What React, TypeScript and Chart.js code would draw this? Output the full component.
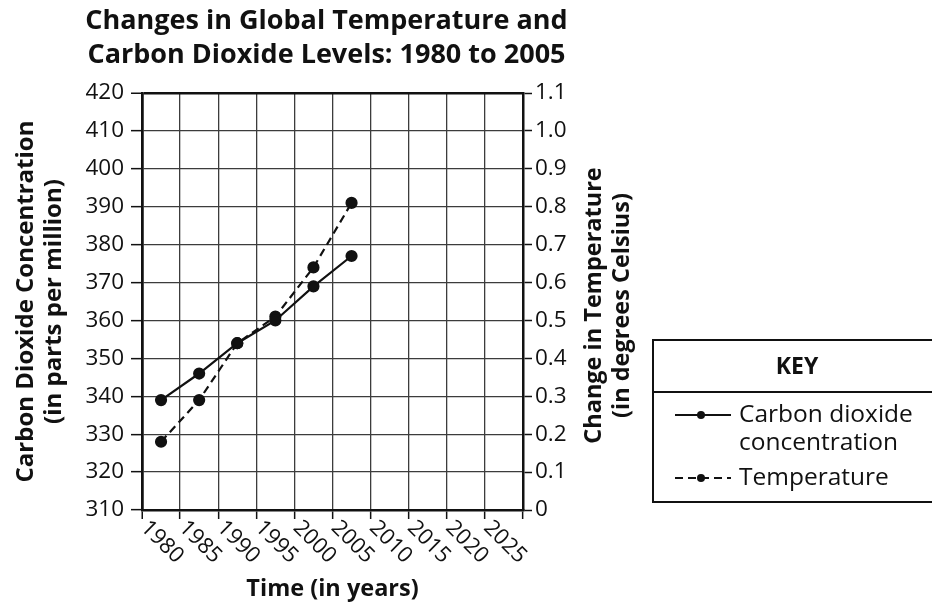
import { useEffect, useRef } from "react";
import { Chart, registerables } from "chart.js";
Chart.register(...registerables);

const FONT = "'Open Sans', 'Noto Sans', sans-serif";

const years = ["1980", "1985", "1990", "1995", "2000", "2005", "2010", "2015", "2020", "2025"];
const co2Values = [339, 346, 354, 360, 369, 377];
const tempValues = [0.18, 0.29, 0.44, 0.51, 0.64, 0.81];

const titleLines = ["Changes in Global Temperature and", "Carbon Dioxide Levels: 1980 to 2005"];
const leftTitle = ["Carbon Dioxide Concentration", "(in parts per million)"];
const rightTitle = ["Change in Temperature", "(in degrees Celsius)"];
const xTitle = "Time (in years)";
const keyTitle = "KEY";
const keyLabels = [["Carbon dioxide", "concentration"], ["Temperature"]];

const INK = "#111111";
const GRID = "#3c3c3c";

const xLabelsPlugin = {
  id: "xLabels",
  afterDraw(chart: any) {
    const { ctx, chartArea } = chart;
    const xs = chart.scales.x;
    ctx.save();
    ctx.fillStyle = INK;
    ctx.font = `22px ${FONT}`;
    ctx.textAlign = "center";
    ctx.textBaseline = "middle";
    (chart.data.labels as string[]).forEach((lab, i) => {
      const x = xs.getPixelForTick(i);
      ctx.save();
      ctx.translate(x + 1, chartArea.bottom + 32);
      ctx.rotate(Math.PI / 4);
      ctx.fillText(lab, 0, 0);
      ctx.restore();
    });
    ctx.restore();
  },
};

const rightTitlePlugin = {
  id: "rightTitle",
  afterDraw(chart: any) {
    const { ctx, chartArea } = chart;
    const cy = (chartArea.top + chartArea.bottom) / 2 + 4;
    ctx.save();
    ctx.fillStyle = INK;
    ctx.font = `bold 23.5px ${FONT}`;
    ctx.textAlign = "center";
    ctx.textBaseline = "middle";
    rightTitle.forEach((line, i) => {
      ctx.save();
      ctx.translate(chartArea.right + 71 + i * 28, cy);
      ctx.rotate(-Math.PI / 2);
      ctx.fillText(line, 0, 0);
      ctx.restore();
    });
    ctx.restore();
  },
};

const keyPlugin = {
  id: "key",
  afterDraw(chart: any) {
    const { ctx, width } = chart;
    const left = 653, top = 340, bottom = 502, divider = 392;
    const right = width - 5;
    ctx.save();
    ctx.strokeStyle = INK;
    ctx.lineWidth = 2;
    ctx.strokeRect(left, top, right - left, bottom - top);
    ctx.beginPath();
    ctx.moveTo(left, divider);
    ctx.lineTo(right, divider);
    ctx.stroke();
    ctx.fillStyle = INK;
    ctx.font = `bold 23px ${FONT}`;
    ctx.textAlign = "center";
    ctx.textBaseline = "middle";
    ctx.fillText(keyTitle, 797, 367);
    ctx.font = `24.5px ${FONT}`;
    ctx.textAlign = "left";
    const rows = [415, 478];
    chart.data.datasets.forEach((ds: any, i: number) => {
      const y = rows[i];
      ctx.save();
      ctx.strokeStyle = ds.borderColor;
      ctx.lineWidth = 2;
      ctx.setLineDash(ds.borderDash || []);
      ctx.beginPath();
      ctx.moveTo(675, y);
      ctx.lineTo(731, y);
      ctx.stroke();
      ctx.restore();
      ctx.beginPath();
      ctx.arc(701, y, 4, 0, Math.PI * 2);
      ctx.fill();
      keyLabels[i].forEach((t, j) => {
        ctx.fillText(t, 739, y + j * 28);
      });
    });
    ctx.restore();
  },
};

export default function App() {
  const ref = useRef<HTMLCanvasElement>(null);
  useEffect(() => {
    document.body.style.margin = "0";
    const chart = new Chart(ref.current!, {
      type: "line",
      data: {
        labels: years,
        datasets: [
          {
            label: "Carbon dioxide concentration",
            data: co2Values,
            yAxisID: "y",
            borderColor: INK,
            backgroundColor: INK,
            pointBackgroundColor: INK,
            pointBorderColor: INK,
            borderWidth: 2.2,
            pointRadius: 5,
            tension: 0,
          },
          {
            label: "Temperature",
            data: tempValues,
            yAxisID: "y2",
            borderColor: INK,
            backgroundColor: INK,
            pointBackgroundColor: INK,
            pointBorderColor: INK,
            borderWidth: 2.2,
            borderDash: [8, 5],
            pointRadius: 5,
            tension: 0,
          },
        ],
      },
      options: {
        animation: false,
        responsive: false,
        layout: { padding: { left: 10, right: 317, top: 0, bottom: 0 } },
        plugins: {
          legend: { display: false },
          tooltip: { enabled: false },
          title: {
            display: true,
            text: titleLines,
            color: INK,
            font: { family: FONT, size: 27, weight: "bold", lineHeight: 34 / 27 },
            padding: { top: 4, bottom: 21 },
          },
        },
        scales: {
          x: {
            type: "category",
            offset: true,
            grid: {
              offset: true,
              color: (c: any) => (c.index === 0 || c.index === years.length ? INK : GRID),
              lineWidth: (c: any) => (c.index === 0 || c.index === years.length ? 2.5 : 1.3),
              tickLength: 9,
              tickColor: INK,
              tickWidth: 1.5,
            },
            border: { display: true, color: INK, width: 2.5 },
            ticks: { display: false },
            title: {
              display: true,
              text: xTitle,
              color: INK,
              font: { family: FONT, size: 23.5, weight: "bold", lineHeight: 28 / 23.5 },
              padding: { top: 0, bottom: 2 },
            },
            afterFit: (s: any) => {
              s.height = 95;
            },
          },
          y: {
            position: "left",
            min: 310,
            max: 420,
            ticks: { stepSize: 10, color: INK, padding: 7, font: { family: FONT, size: 22.5 } },
            grid: {
              color: (c: any) => (c.tick && c.tick.value === 420 ? INK : GRID),
              lineWidth: (c: any) => (c.tick && c.tick.value === 420 ? 2.5 : 1.3),
              tickLength: 11,
              tickColor: INK,
              tickWidth: 1.5,
            },
            border: { display: true, color: INK, width: 2.5 },
            title: {
              display: true,
              text: leftTitle,
              color: INK,
              font: { family: FONT, size: 24, weight: "bold", lineHeight: 28 / 24 },
              padding: { top: 2, bottom: 0 },
            },
            afterFit: (s: any) => {
              s.width = 132;
            },
          },
          y2: {
            position: "right",
            min: 0,
            max: 1.1,
            ticks: {
              stepSize: 0.1,
              color: INK,
              padding: 3,
              font: { family: FONT, size: 22.5 },
              callback: (v: any) => (Number(v) === 0 ? "0" : Number(v).toFixed(1)),
            },
            grid: { drawOnChartArea: false, tickLength: 9, tickColor: INK, tickWidth: 1.5 },
            border: { display: true, color: INK, width: 2.5 },
            afterFit: (s: any) => {
              s.width = 120;
            },
          },
        },
      } as any,
      plugins: [xLabelsPlugin, rightTitlePlugin, keyPlugin],
    });
    return () => chart.destroy();
  }, []);
  return (
    <div style={{ width: 932, height: 605, overflow: "hidden", position: "relative" }}>
      <canvas ref={ref} width={960} height={605} style={{ display: "block" }} />
    </div>
  );
}
